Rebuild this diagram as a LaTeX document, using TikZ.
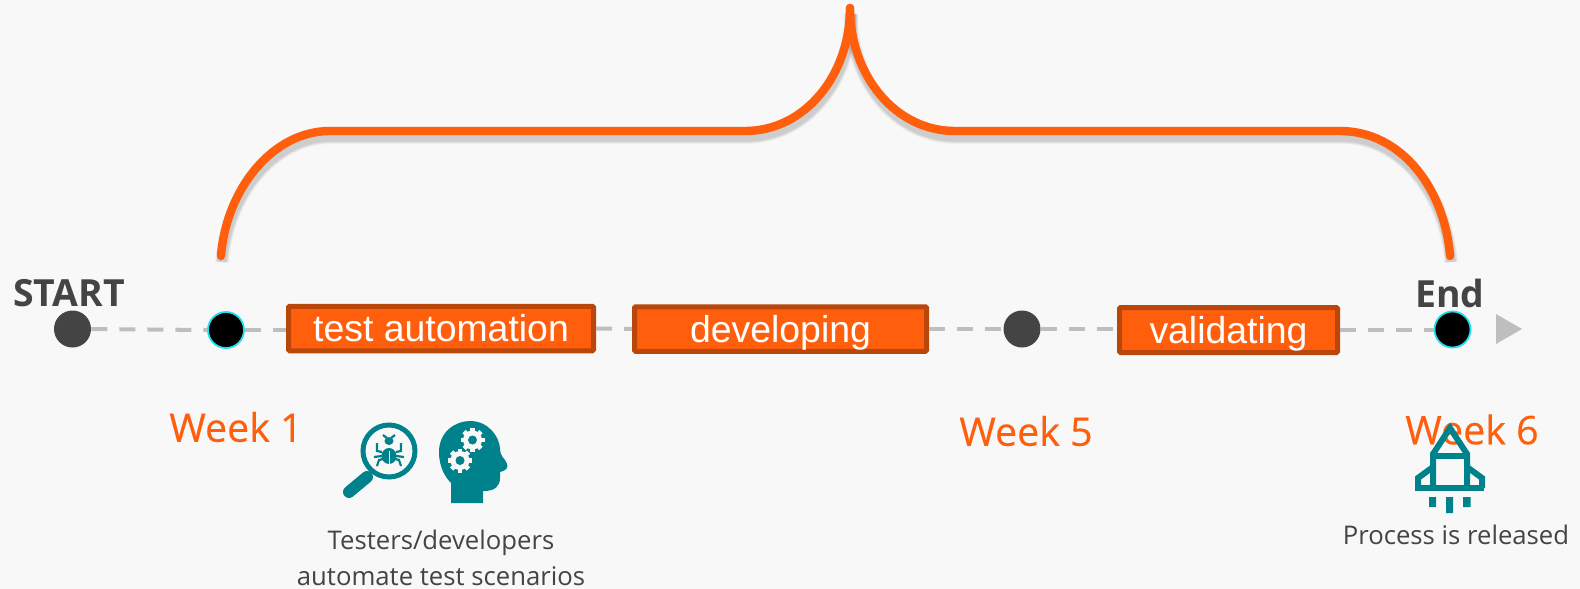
\documentclass[tikz,border=0pt]{standalone}
\usepackage{fontspec}
\setmainfont{Open Sans}
\newfontfamily\arialf{Liberation Sans}
\newfontfamily\weekf[FakeBold=0.35]{Open Sans}
\definecolor{bgc}{HTML}{F8F8F8}
\definecolor{orgc}{HTML}{FF5F0C}
\definecolor{orgd}{HTML}{B9470B}
\definecolor{dkc}{HTML}{444444}
\definecolor{tealc}{HTML}{00828C}
\definecolor{tlgray}{HTML}{BEBEBE}
\definecolor{cyc}{HTML}{1FE0F0}
\tikzset{
 px/.style={x=0.5pt,y=-0.5pt},
 timeline/.style={draw=tlgray,line width=2pt,dash pattern=on 8pt off 6pt},
 dotd/.style={circle,fill=dkc,minimum size=18.5pt,inner sep=0pt},
 dotk/.style={circle,fill=black,draw=cyc,line width=0.9pt,minimum size=18pt,inner sep=0pt},
 phase/.style={draw=orgd,line width=2.5pt,fill=orgc,rounded corners=0.6pt,text=white,inner sep=0pt,text height=16pt,text depth=3pt,font=\arialf\fontsize{18.7}{20}\selectfont},
 week/.style={text=orgc,font=\weekf\fontsize{19.7}{22}\selectfont},
 boldlabel/.style={text=dkc,font=\bfseries\fontsize{18.7}{20}\selectfont},
 captext/.style={text=dkc,align=center,font=\fontsize{12.85}{18}\selectfont},
 brace/.style={draw=orgc,line width=4.2pt,line cap=round},
 tealline/.style={draw=tealc,line width=3pt}
}
\newcommand{\leftbrace}{(850,8) .. controls (850,75) and (805,131) .. (745,131) -- (330,131) .. controls (272,131) and (226,190) .. (221,256)}
\newcommand{\rightbrace}{(850,8) .. controls (850,75) and (895,131) .. (955,131) -- (1340,131) .. controls (1402,131) and (1445,190) .. (1450,256)}
\begin{document}
\begin{tikzpicture}[px]
\useasboundingbox (0,0) rectangle (1580,589);
\fill[bgc] (0,0) rectangle (1580,589);
% brace shadow
\foreach \w/\o in {7/0.03,6.2/0.04,5.4/0.05,4.6/0.06}{
\draw[black,opacity=\o,line width=\w pt,shift={(1,6)}] \leftbrace;
\draw[black,opacity=\o,line width=\w pt,shift={(1,6)}] \rightbrace;
}
% brace
\draw[brace] \leftbrace;
\draw[brace] \rightbrace;
% phases
\node[phase,minimum width=152.5pt,minimum height=22.25pt] (p1) at (441,328.5) {test automation};
\node[phase,minimum width=146pt,minimum height=22.25pt] (p2) at (780.5,329) {developing};
\node[phase,minimum width=109pt,minimum height=22.5pt] (p3) at (1228.5,330) {validating};
% dots
\node[dotd] (s) at (72.5,329) {};
\node[dotk] (w1) at (226,330) {};
\node[dotd] (w5) at (1022,329) {};
\node[dotk] (e) at (1452.5,329.5) {};
\draw[timeline] (s.east) -- (w1.west);
\draw[timeline] (w1.east) -- (p1.west |- w1.east);
\draw[timeline] (p1.east) -- (p2.west);
\draw[timeline] (p2.east) -- (w5.west);
\draw[timeline] (w5.east) -- (p3.west |- w5.east);
\draw[timeline] (p3.east |- e.west) -- (e.west);
\fill[tlgray] (1496,314) -- (1522,329) -- (1496,344) -- cycle;
\node[boldlabel] (lstart) at (69,293) {START};
\node[boldlabel] (lend) at (1450,293) {End};
\node[week] (l1) at (236,427) {Week 1};
\node[week] (l5) at (1026,431) {Week 5};
\node[week] (l6) at (1472,429.5) {Week 6};
\node[captext] (c1) at (441,558) {Testers/developers\\automate test scenarios};
\node[captext] (c2) at (1456,535) {Process is released};
% magnifier
\draw[tealc,line width=2.5pt] (389,451) circle (26);
\draw[tealc,line width=6pt,line cap=round] (367,477) -- (349,492);
% bug
\begin{scope}[shift={(389,451)}]
\fill[tealc] (0,-10) ellipse (4.5 and 4);
\fill[tealc] (0,5) ellipse (7.5 and 8);
\draw[bgc,line width=0.5pt] (0,0) -- (0,13);
\draw[tealc,line width=1.1pt] (-2,-13) -- (-6,-16) (2,-13) -- (6,-16)
 (-7,1) -- (-12,0) -- (-12,-8) (7,1) -- (12,0) -- (12,-8)
 (-7,5) -- (-15,6) (7,5) -- (15,6)
 (-6,8) -- (-10,9) -- (-12,15) (6,8) -- (10,9) -- (12,15);
\end{scope}
% head
\fill[tealc] (451,503) -- (451,483) .. controls (446,478) and (439,468) .. (439,452) .. controls (439,432) and (455,421) .. (470,421) .. controls (488,421) and (499,436) .. (500,448) .. controls (500,452) and (501,456) .. (505,460) -- (507,464) .. controls (509,468) and (505,471) .. (500,472) -- (500,478) .. controls (500,486) and (495,491) .. (484,491) -- (483,491) -- (483,503) -- cycle;
\foreach \cx/\cy in {472.5/440, 460/460.5}{
 \fill[bgc] (\cx,\cy) circle (9.5);
 \foreach \a in {0,45,...,315}{\fill[bgc,shift={(\cx,\cy)},rotate=\a] (-2.3,-12) rectangle (2.3,-7);}
 \fill[tealc] (\cx,\cy) circle (4.5);
}
% rocket
\draw[tealline,line join=miter] (1433,490) -- (1433,454) -- (1450,428) -- (1467,454) -- (1467,490);
\draw[tealline] (1433,456) -- (1467,456);
\draw[tealline] (1415,488) -- (1484,488);
\draw[tealline] (1433,467) -- (1418,478) -- (1418,488);
\draw[tealline] (1467,467) -- (1482,478) -- (1482,488);
\fill[tealc] (1429,497) rectangle (1436,507) (1446,497) rectangle (1453,513) (1463,497) rectangle (1470.5,507);
\end{tikzpicture}
\end{document}
